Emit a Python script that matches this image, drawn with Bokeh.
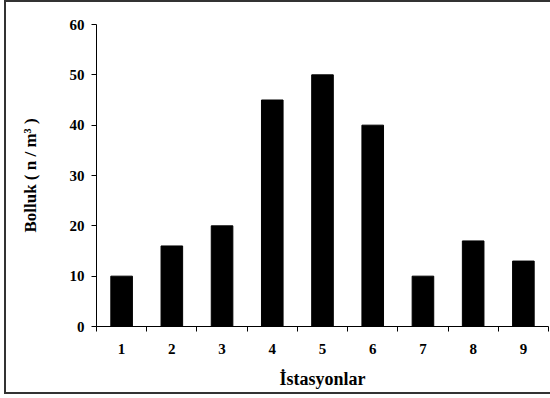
from bokeh.plotting import figure
from bokeh.models import Range1d, FixedTicker, ColumnDataSource
from bokeh.embed import file_html
from bokeh.resources import INLINE

stations = [1, 2, 3, 4, 5, 6, 7, 8, 9]
abundance = [10, 16, 20, 45, 50, 40, 10, 17, 13]
y_ticks = [0, 10, 20, 30, 40, 50, 60]
x_label = "İstasyonlar"
y_label = "Bolluk ( n / m³ )"

FONT = "Liberation Serif"

p = figure(width=546, height=394, output_backend="svg", toolbar_location=None,
           x_range=Range1d(0.5, 9.5), y_range=Range1d(0, 60),
           min_border_left=90, min_border_right=4, min_border_top=22, min_border_bottom=70)
p.styles = {"margin-left": "4px",
            "border-left": "2px solid #333", "border-top": "2px solid #333",
            "border-bottom": "2px solid #333"}

src = ColumnDataSource(dict(x=stations, top=abundance))
p.vbar(x="x", top="top", width=0.43, source=src, fill_color="black", line_color="black")

p.outline_line_color = None
p.xgrid.visible = False
p.ygrid.visible = False

xa = p.xaxis[0]
xa.ticker = FixedTicker(ticks=stations, minor_ticks=[s - 0.5 for s in stations] + [stations[-1] + 0.5])
xa.major_tick_out = 0
xa.major_tick_in = 0
xa.minor_tick_out = 5
xa.minor_tick_in = 0
xa.minor_tick_line_color = "black"
xa.axis_line_color = "black"
xa.major_label_standoff = 12
xa.major_label_text_font = FONT
xa.major_label_text_font_style = "bold"
xa.major_label_text_font_size = "15px"
xa.major_label_text_color = "black"
xa.axis_label = x_label
xa.axis_label_text_font = FONT
xa.axis_label_text_font_style = "bold"
xa.axis_label_text_font_size = "18px"
xa.axis_label_text_color = "black"
xa.axis_label_standoff = 12

ya = p.yaxis[0]
ya.ticker = FixedTicker(ticks=y_ticks, minor_ticks=[])
ya.major_tick_out = 5
ya.major_tick_in = 0
ya.minor_tick_out = 0
ya.axis_line_color = "black"
ya.major_tick_line_color = "black"
ya.major_label_standoff = 7
ya.major_label_text_font = FONT
ya.major_label_text_font_style = "bold"
ya.major_label_text_font_size = "15px"
ya.major_label_text_color = "black"
ya.axis_label = y_label
ya.axis_label_text_font = FONT
ya.axis_label_text_font_style = "bold"
ya.axis_label_text_font_size = "17px"
ya.axis_label_text_color = "black"
ya.axis_label_standoff = 27

open("out.html", "w").write(file_html(p, INLINE))
